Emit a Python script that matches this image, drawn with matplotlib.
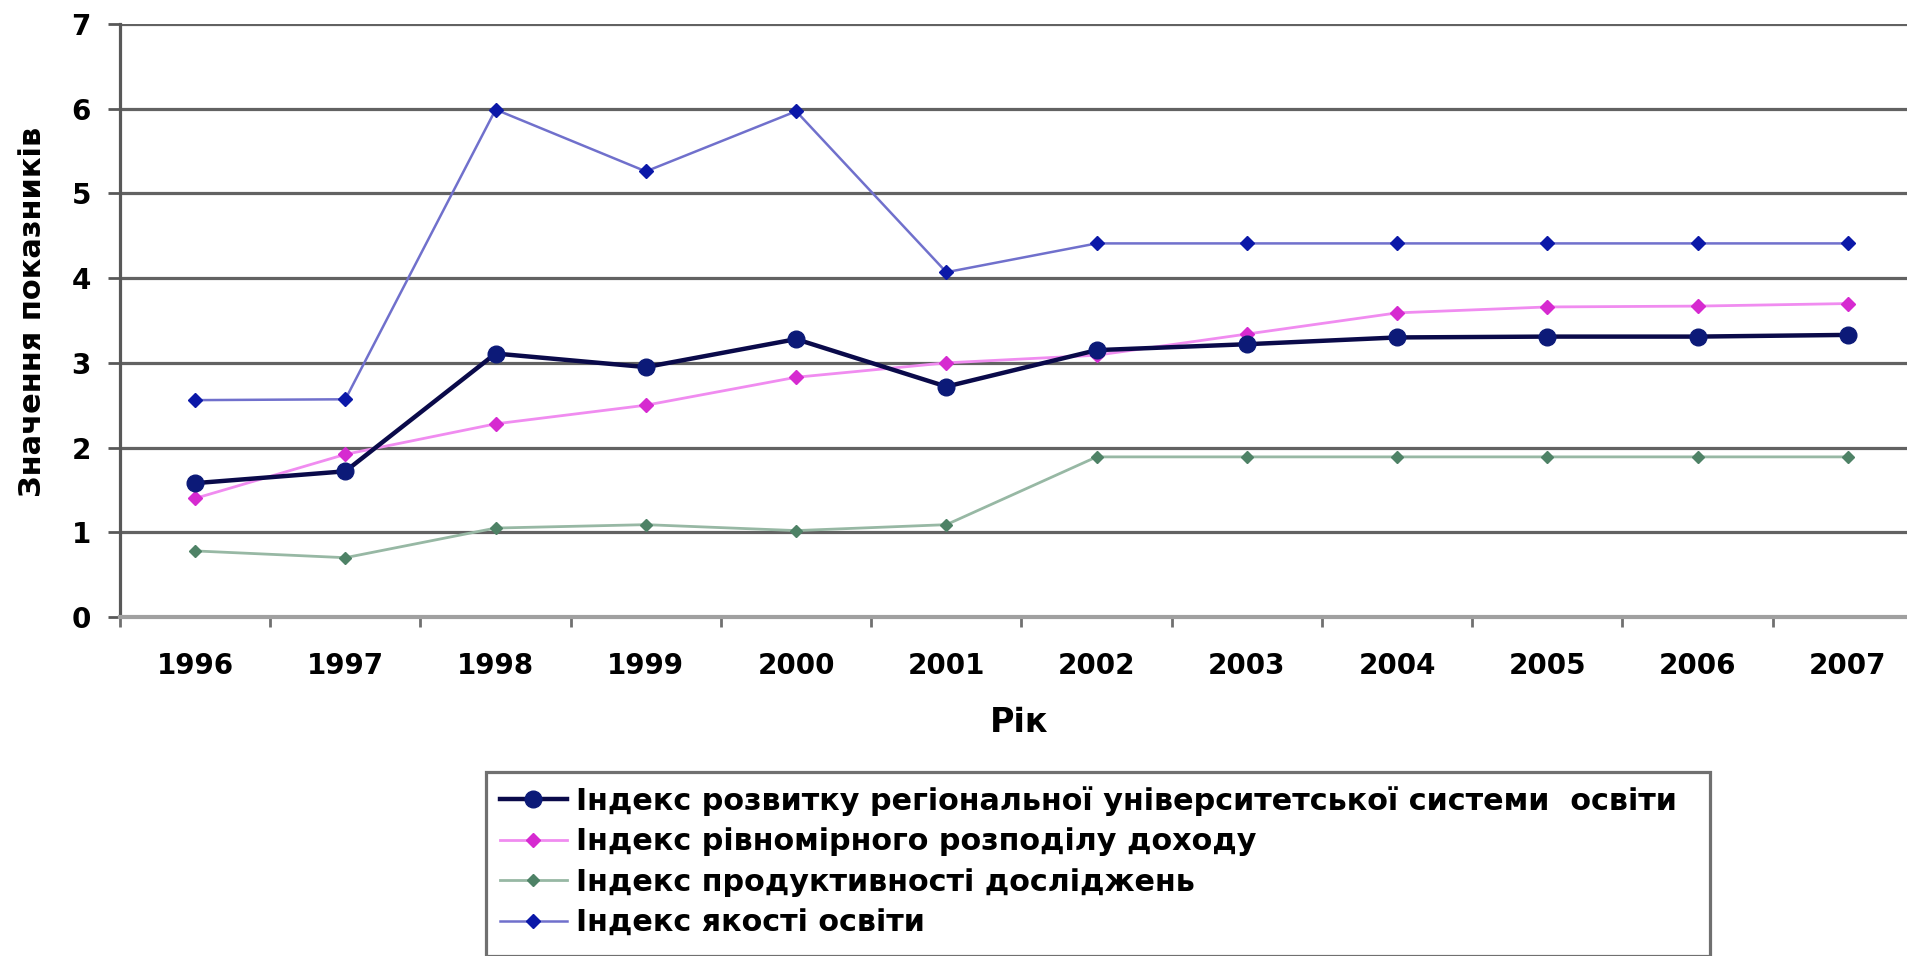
import matplotlib
matplotlib.use("Agg")
import matplotlib.pyplot as plt
from matplotlib import font_manager
from matplotlib.patches import Rectangle

years = ["1996", "1997", "1998", "1999", "2000", "2001", "2002", "2003", "2004", "2005", "2006", "2007"]
rozvytok = [1.58, 1.72, 3.11, 2.95, 3.28, 2.72, 3.15, 3.22, 3.30, 3.31, 3.31, 3.33]
rivnomirnist = [1.40, 1.92, 2.28, 2.50, 2.83, 3.00, 3.09, 3.34, 3.59, 3.66, 3.67, 3.70]
produktyvnist = [0.78, 0.70, 1.05, 1.09, 1.02, 1.09, 1.89, 1.89, 1.89, 1.89, 1.89, 1.89]
yakist = [2.56, 2.57, 5.99, 5.26, 5.97, 4.07, 4.41, 4.41, 4.41, 4.41, 4.41, 4.41]
labels = [
    "Індекс розвитку регіональної університетської системи  освіти",
    "Індекс рівномірного розподілу доходу",
    "Індекс продуктивності досліджень",
    "Індекс якості освіти",
]
x_title = "Рік"
y_title = "Значення показників"
yticks = [0, 1, 2, 3, 4, 5, 6, 7]

names = {f.name for f in font_manager.fontManager.ttflist}
narrow = "Liberation Sans Narrow" if "Liberation Sans Narrow" in names else "DejaVu Sans"

W, H = 1907, 956
fig = plt.figure(figsize=(W / 100, H / 100), dpi=100)
ax_left, ax_right, ax_top, ax_bot = 120, 1923, 24, 617
ax = fig.add_axes([ax_left / W, 1 - ax_bot / H, (ax_right - ax_left) / W, (ax_bot - ax_top) / H])

xs = list(range(len(years)))
ax.set_xlim(-0.5, len(years) - 0.5)
ax.set_ylim(0, 7)

grid_c = "#626262"
for v in yticks[1:]:
    ax.axhline(v, color=grid_c, lw=2.3, zorder=1)

styles = [
    dict(color="#0a0a4a", lw=3.2, marker="o", ms=12, mfc="#0c1a78", mec="#0c1a78", zorder=5),
    dict(color="#f08cf0", lw=2.0, marker="D", ms=7, mfc="#d62ad0", mec="#d62ad0", zorder=4),
    dict(color="#97b8a4", lw=2.0, marker="D", ms=6, mfc="#4e8266", mec="#4e8266", zorder=4),
    dict(color="#7070cc", lw=1.8, marker="D", ms=7, mfc="#0b18a8", mec="#0b18a8", zorder=4),
]
series = [rozvytok, rivnomirnist, produktyvnist, yakist]
handles = []
for s, st, lab in zip(series, styles, labels):
    (ln,) = ax.plot(xs, s, label=lab, **st)
    handles.append(ln)

for sp in ["top", "right"]:
    ax.spines[sp].set_visible(False)
ax.spines["left"].set_color("#585858")
ax.spines["left"].set_linewidth(2.3)
ax.spines["bottom"].set_color("#a0a0a0")
ax.spines["bottom"].set_linewidth(3)

ax.set_yticks(yticks)
ax.set_yticklabels([str(v) for v in yticks], fontsize=20, fontweight="bold", family="DejaVu Sans")
ax.tick_params(axis="y", length=9, width=2, color="#585858", pad=12)

ax.set_xticks([i + 0.5 for i in range(-1, len(years))])
ax.set_xticklabels([])
ax.tick_params(axis="x", which="major", length=7, width=2, color="#707070")
ax.set_xticks(xs, minor=True)
ax.set_xticklabels(years, minor=True, fontsize=20, fontweight="bold", family="DejaVu Sans")
ax.tick_params(axis="x", which="minor", length=0, pad=25)

fig.text(1019 / W, 1 - 722 / H, x_title, ha="center", va="center", fontsize=24, fontweight="bold", family="DejaVu Sans")
fig.text(33 / W, 1 - 312 / H, y_title, ha="center", va="center", rotation=90, fontsize=30 if narrow != "DejaVu Sans" else 22,
         fontweight="bold", family=narrow)

# legend frame
fig.patches.append(Rectangle((486 / W, 0), (1710 - 486) / W, 1 - 772 / H - 0.0, transform=fig.transFigure,
                             fill=True, facecolor="white", edgecolor="#707070", lw=2.3, zorder=0))
leg = fig.legend(handles=handles, labels=labels, loc="upper left", bbox_to_anchor=(500 / W, 1 - 786 / H),
                 frameon=False, borderpad=0, borderaxespad=0, handlelength=2.2, handletextpad=0.3,
                 labelspacing=0.38, prop=dict(family="DejaVu Sans", weight="bold", size=21.8))

fig.savefig("out.png", dpi=100)
